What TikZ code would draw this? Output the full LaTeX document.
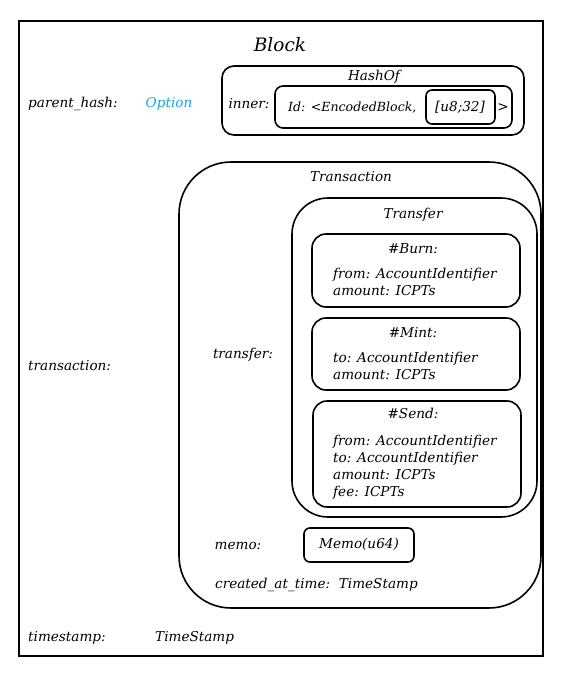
\documentclass[tikz,border=0pt]{standalone}
\usepackage{fontspec}
\setmainfont{DejaVu Serif}
\definecolor{optblue}{RGB}{27,161,226}

\begin{document}
\begin{tikzpicture}[x=1pt,y=-1pt,
	lbl/.style={font=\itshape\fontsize{13.6}{17}\selectfont, inner sep=0pt},
	box/.style={draw=black, line width=1.6pt, rounded corners=#1},
	box/.default=12pt]
	\useasboundingbox (0,0) rectangle (560,674);

	% block
	\draw[line width=2pt] (19,21) rectangle (543,656);
	\node[lbl, font=\itshape\fontsize{18.5}{20}\selectfont] (block) at (280,45) {Block};

	% parent hash
	\node[lbl, anchor=west] (parent) at (28,104) {parent\_hash:};
	\node[lbl, text=optblue] (option) at (169,104) {Option};
	\draw[box] (222,66) rectangle (524,135);
	\node[lbl] (hashof) at (374,77) {HashOf};
	\node[lbl] (inner) at (249,104) {inner:};
	\draw[box=8pt] (275,86) rectangle (512,128);
	\node[lbl, anchor=west, font=\itshape\fontsize{12.6}{17}\selectfont] (id) at (288,108) {Id: <EncodedBlock,};
	\draw[box=6pt] (426,90) rectangle (495,124);
	\node[lbl] (arr) at (460,107) {[u8;32]};
	\node[lbl] (close) at (503,108) {>};

	% transaction
	\node[lbl, anchor=west] (trans) at (28,366) {transaction:};
	\draw[box=52pt] (179,162) rectangle (541,608);
	\node[lbl] (transtitle) at (351,177) {Transaction};
	\node[lbl] (transfer) at (243,355) {transfer:};

	% transfer variants
	\draw[box=36pt] (292,198) rectangle (537,517);
	\node[lbl] (transfertitle) at (413,215) {Transfer};
	\draw[box=14pt] (312,234) rectangle (520,307);
	\node[lbl] (burn) at (413,249) {\#Burn:};
	\node[lbl, anchor=north west, align=left] (burnbody) at (333,268)
		{from: AccountIdentifier\\amount: ICPTs};
	\draw[box=14pt] (312,318) rectangle (520,390);
	\node[lbl] (mint) at (413,333) {\#Mint:};
	\node[lbl, anchor=north west, align=left] (mintbody) at (333,352)
		{to: AccountIdentifier\\amount: ICPTs};
	\draw[box=14pt] (313,401) rectangle (521,507);
	\node[lbl] (send) at (413,413) {\#Send:};
	\node[lbl, anchor=north west, align=left] (sendbody) at (333,435)
		{from: AccountIdentifier\\to: AccountIdentifier\\amount: ICPTs\\fee: ICPTs};

	% memo and time
	\node[lbl] (memo) at (238,546) {memo:};
	\draw[box=6pt] (304,528) rectangle (414,562);
	\node[lbl] (memotype) at (359,544) {Memo(u64)};
	\node[lbl, anchor=west] (created) at (215,585) {created\_at\_time:\ \ TimeStamp};

	% timestamp
	\node[lbl, anchor=west] (stamp) at (28,638) {timestamp:};
	\node[lbl, anchor=west] (stamptype) at (155,638) {TimeStamp};
\end{tikzpicture}
\end{document}
